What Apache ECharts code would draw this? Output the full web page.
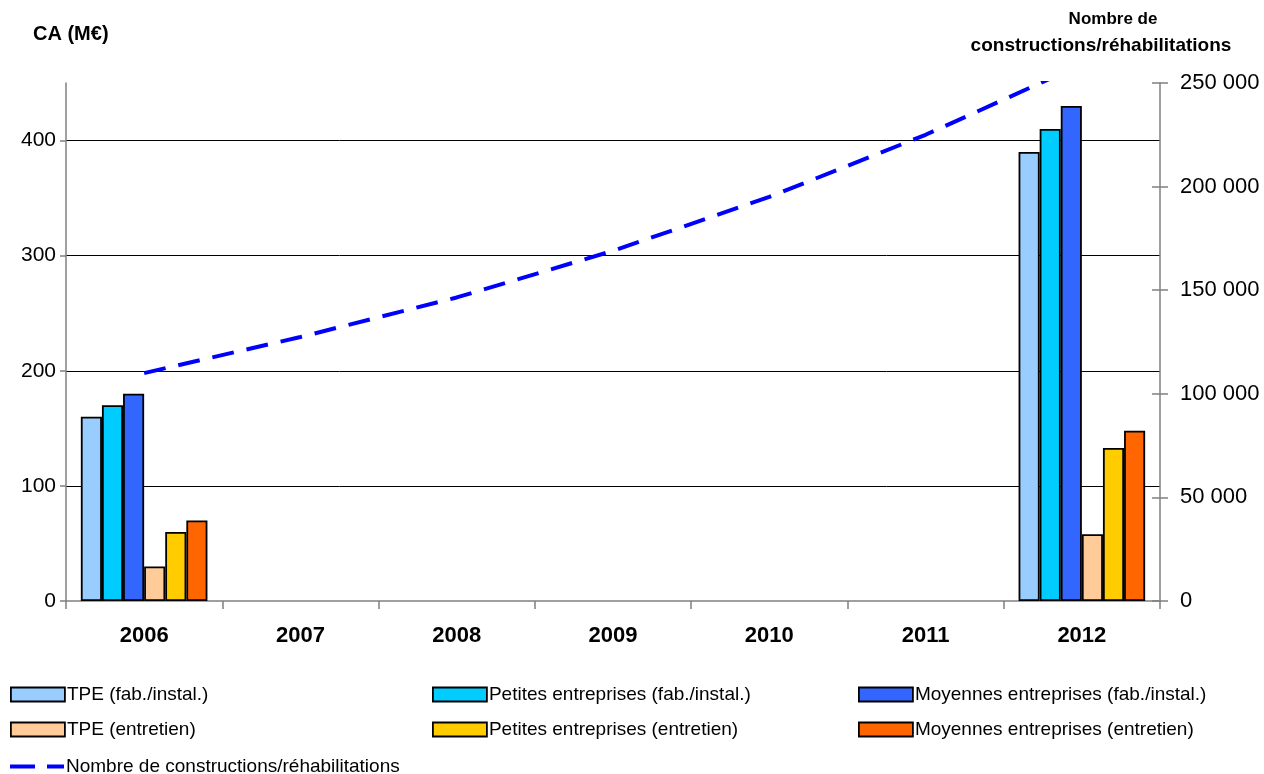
<!DOCTYPE html>
<html>
<head>
<meta charset="utf-8">
<script src="https://cdn.jsdelivr.net/npm/echarts@6/dist/echarts.min.js"></script>
<style>
  html, body { margin: 0; padding: 0; background: #fff; }
  #chart { width: 1264px; height: 774px; }
</style>
</head>
<body>
<div id="chart"></div>
<script>
// Years on the category axis
const years = ['2006', '2007', '2008', '2009', '2010', '2011', '2012'];

// Turnover (M€) by company size, manufacturing/installation
const tpeFab = [160, null, null, null, null, null, 390];
const petitesFab = [170, null, null, null, null, null, 410];
const moyennesFab = [180, null, null, null, null, null, 430];

// Turnover (M€) by company size, maintenance
const tpeEntretien = [30, null, null, null, null, null, 58];
const petitesEntretien = [60, null, null, null, null, null, 133];
const moyennesEntretien = [70, null, null, null, null, null, 148];

// Number of constructions / renovations per year
const constructions = [110000, 127400, 146500, 169000, 195000, 225000, 259000];

// Tick values for the two value axes
const leftTicks = [0, 100, 200, 300, 400];
const rightTicks = [0, 50000, 100000, 150000, 200000, 250000];

const FONT = "'Liberation Sans', Arial, sans-serif";

const barNames = [
  'TPE (fab./instal.)',
  'Petites entreprises (fab./instal.)',
  'Moyennes entreprises (fab./instal.)',
  'TPE (entretien)',
  'Petites entreprises (entretien)',
  'Moyennes entreprises (entretien)'
];
const barData = [tpeFab, petitesFab, moyennesFab, tpeEntretien, petitesEntretien, moyennesEntretien];
const barColors = ['#99CCFF', '#00CCFF', '#3366FF', '#FFCC99', '#FFCC00', '#FF6600'];
const lineName = 'Nombre de constructions/réhabilitations';

function frNumber(v) {
  return String(v).replace(/\B(?=(\d{3})+(?!\d))/g, ' ');
}

const barSeries = barNames.map((name, i) => ({
  name: name,
  type: 'bar',
  yAxisIndex: 0,
  data: barData[i],
  barGap: '0%',
  barCategoryGap: '19%',
  itemStyle: { color: barColors[i], borderColor: '#000', borderWidth: 1.8 },
  emphasis: { disabled: true }
}));

// Legend layout: three columns, three rows
const legendCols = [10, 432, 858];
const legendRows = [685, 720];
const legendText = { fontFamily: FONT, fontSize: 19, color: '#000', padding: [0, 0, 0, -3] };
const legends = barNames.map((name, i) => ({
  data: [{ name: name, icon: 'rect' }],
  left: legendCols[i % 3],
  top: legendRows[Math.floor(i / 3)],
  padding: 0,
  itemWidth: 54,
  itemHeight: 14,
  selectedMode: false,
  itemStyle: { borderColor: '#000', borderWidth: 1.8 },
  textStyle: legendText
}));
// dashed-line key for the line series
legends.push({
  data: [{ name: lineName, icon: 'path://M0,0H25V4H0Z M37,0H54V4H37Z' }],
  left: legendCols[0],
  top: 757,
  padding: 0,
  itemWidth: 54,
  itemHeight: 4,
  selectedMode: false,
  itemStyle: { color: '#0000FF', borderWidth: 0 },
  textStyle: legendText
});

const chart = echarts.init(document.getElementById('chart'), null, { renderer: 'canvas' });

chart.setOption({
  animation: false,
  backgroundColor: '#fff',
  textStyle: { fontFamily: FONT },
  grid: { left: 66, right: 104, top: 83, bottom: 173, containLabel: false },
  legend: legends,
  graphic: [
    {
      type: 'text', left: 33, top: 24,
      style: { text: 'CA (M€)', font: "bold 20px 'Liberation Sans', Arial, sans-serif", fill: '#000' }
    },
    {
      type: 'text', x: 1113, y: 11,
      style: { text: 'Nombre de', font: "bold 17px 'Liberation Sans', Arial, sans-serif", fill: '#000', align: 'center' }
    },
    {
      type: 'text', x: 1101, y: 36,
      style: { text: 'constructions/réhabilitations', font: "bold 19px 'Liberation Sans', Arial, sans-serif", fill: '#000', align: 'center' }
    }
  ],
  xAxis: {
    type: 'category',
    data: years,
    boundaryGap: true,
    axisLine: { lineStyle: { color: '#808080', width: 1.5 } },
    axisTick: { show: true, length: 8, alignWithLabel: false, lineStyle: { color: '#808080', width: 1.5 } },
    axisLabel: { fontFamily: FONT, fontSize: 22, fontWeight: 'bold', color: '#000', margin: 24 },
    splitLine: { show: false }
  },
  yAxis: [
    {
      type: 'value',
      position: 'left',
      min: 0,
      max: 450,
      interval: 100,
      axisLine: { show: true, lineStyle: { color: '#808080', width: 1.5 } },
      axisTick: { show: true, length: 6, customValues: leftTicks, lineStyle: { color: '#808080', width: 1.5 } },
      axisLabel: { fontFamily: FONT, fontSize: 21, color: '#000', margin: 10, customValues: leftTicks },
      splitLine: { show: true, showMinLine: false, lineStyle: { color: '#000', width: 1 } }
    },
    {
      type: 'value',
      position: 'right',
      min: 0,
      max: 250000,
      interval: 50000,
      axisLine: { show: true, lineStyle: { color: '#808080', width: 1.5 } },
      axisTick: { show: true, length: 8, customValues: rightTicks, lineStyle: { color: '#808080', width: 1.5 } },
      axisLabel: { fontFamily: FONT, fontSize: 22, color: '#000', margin: 20, customValues: rightTicks, formatter: frNumber },
      splitLine: { show: false }
    },
    {
      // inner half of the crossing ticks on the right axis
      type: 'value',
      position: 'right',
      min: 0,
      max: 250000,
      interval: 50000,
      axisLine: { show: false },
      axisTick: { show: true, inside: true, length: 8, customValues: rightTicks, lineStyle: { color: '#808080', width: 1.5 } },
      axisLabel: { show: false },
      splitLine: { show: false }
    }
  ],
  series: barSeries.concat([{
    name: lineName,
    type: 'line',
    yAxisIndex: 1,
    data: constructions,
    symbol: 'none',
    showSymbol: false,
    smooth: false,
    clip: true,
    z: 5,
    lineStyle: { color: '#0000FF', width: 4, type: [22, 13] },
    itemStyle: { color: '#0000FF' },
    emphasis: { disabled: true }
  }])
});
</script>
</body>
</html>
